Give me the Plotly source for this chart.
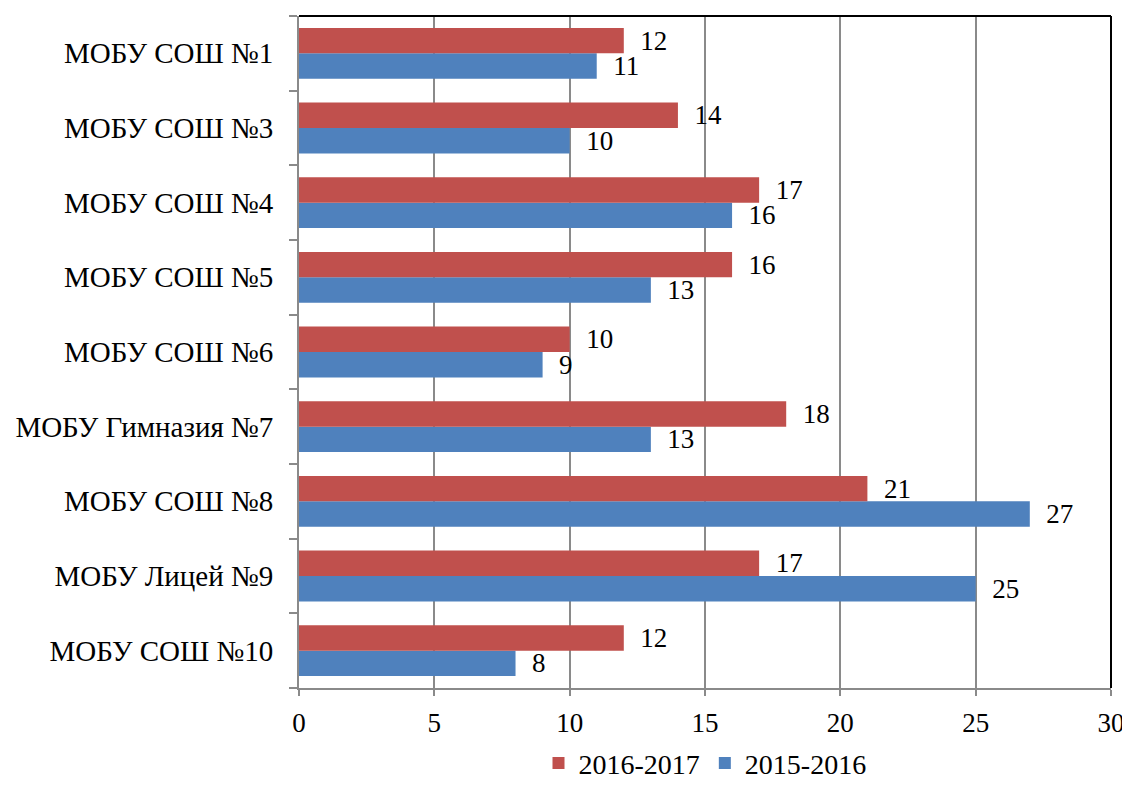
import plotly.graph_objects as go

# data
schools = [
    "МОБУ СОШ №1",
    "МОБУ СОШ №3",
    "МОБУ СОШ №4",
    "МОБУ СОШ №5",
    "МОБУ СОШ №6",
    "МОБУ Гимназия №7",
    "МОБУ СОШ №8",
    "МОБУ Лицей №9",
    "МОБУ СОШ №10",
]
y_2016_2017 = [12, 14, 17, 16, 10, 18, 21, 17, 12]
y_2015_2016 = [11, 10, 16, 13, 9, 13, 27, 25, 8]

font_family = "Liberation Serif, Times New Roman, serif"
grid_col = "#8a8a8a"

fig = go.Figure()
# first trace sits at the bottom of each group
fig.add_trace(go.Bar(
    name="2015-2016", y=schools, x=y_2015_2016, orientation="h",
    marker=dict(color="#4f81bd", line=dict(width=0)),
    text=y_2015_2016, texttemplate="  %{text}", textposition="outside",
    textfont=dict(size=27, color="black", family=font_family),
    cliponaxis=False,
))
fig.add_trace(go.Bar(
    name="2016-2017", y=schools, x=y_2016_2017, orientation="h",
    marker=dict(color="#c0504d", line=dict(width=0)),
    text=y_2016_2017, texttemplate="  %{text}", textposition="outside",
    textfont=dict(size=27, color="black", family=font_family),
    cliponaxis=False,
))

fig.update_layout(
    width=1114, height=773,
    margin=dict(l=291, r=11, t=8, b=93, autoexpand=False),
    paper_bgcolor="white", plot_bgcolor="white",
    barmode="group", bargap=0.32, bargroupgap=0,
    font=dict(family=font_family, size=27, color="black"),
    uniformtext=dict(minsize=27, mode="show"),
    legend=dict(
        orientation="h", x=0.5, xanchor="center", y=-0.112, yanchor="middle",
        traceorder="reversed", font=dict(size=28),
    ),
    xaxis=dict(
        range=[0, 30], dtick=5, showgrid=True, gridcolor=grid_col, gridwidth=2,
        showline=True, linecolor=grid_col, linewidth=2,
        ticks="outside", ticklen=6, tickcolor=grid_col, tickwidth=2,
        tickfont=dict(size=27), zeroline=False, automargin=False,
        ticklabelstandoff=4, ticklabeloverflow="allow",
    ),
    yaxis=dict(
        categoryorder="array", categoryarray=schools[::-1],
        showline=True, linecolor=grid_col, linewidth=2,
        ticks="outside", ticklen=8, tickcolor=grid_col, tickwidth=2,
        tickson="boundaries", tickfont=dict(size=29), showgrid=False,
        automargin=False, ticklabelstandoff=18,
    ),
    shapes=[
        dict(type="line", xref="paper", yref="paper", x0=0, x1=1, y0=1, y1=1,
             line=dict(color="black", width=2)),
        dict(type="line", xref="paper", yref="paper", x0=1, x1=1, y0=0, y1=1,
             line=dict(color="black", width=2)),
    ],
)

fig.write_html("out.html")
